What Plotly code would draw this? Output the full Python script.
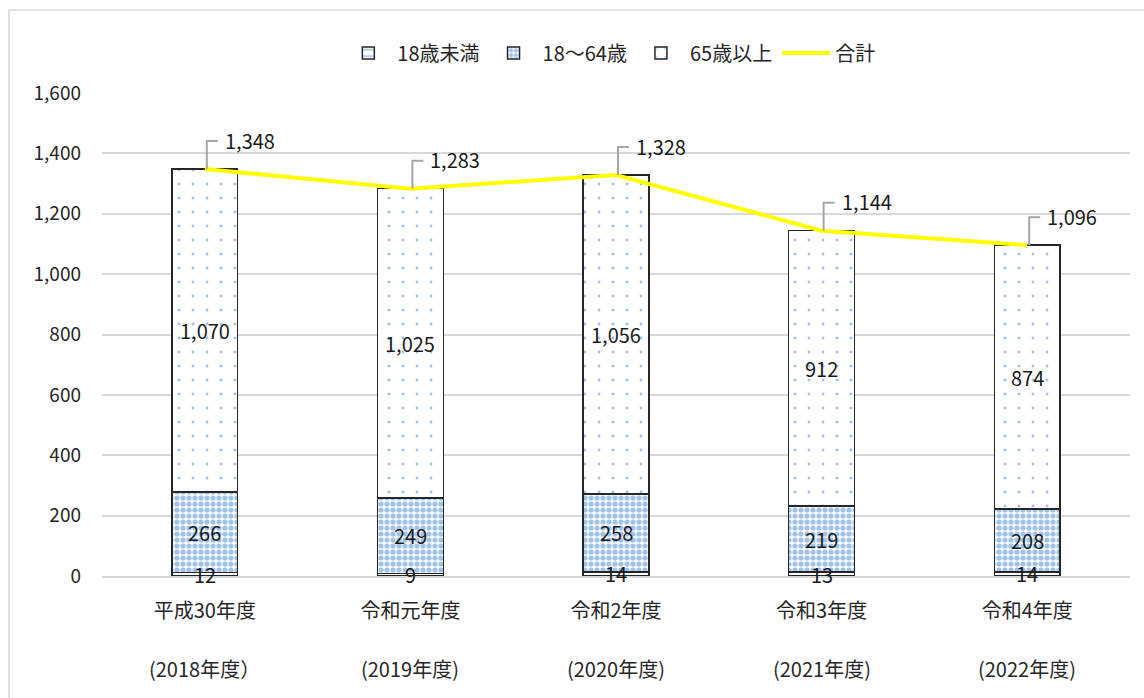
import plotly.graph_objects as go

categories = ["平成30年度", "令和元年度", "令和2年度", "令和3年度", "令和4年度"]
sub_labels = ["(2018年度）", "(2019年度)", "(2020年度)", "(2021年度)", "(2022年度)"]
under18 = [12, 9, 14, 13, 14]
age18_64 = [266, 249, 258, 219, 208]
age65plus = [1070, 1025, 1056, 912, 874]
total = [1348, 1283, 1328, 1144, 1096]
y_ticks = [0, 200, 400, 600, 800, 1000, 1200, 1400, 1600]

FONT = "Noto Sans CJK JP"
BLUE = "#3F86D4"
x_idx = list(range(len(categories)))

fig = go.Figure()
fig.add_trace(go.Bar(
    x=x_idx, y=under18, name="18歳未満",
    marker=dict(color="white", line=dict(color="#262626", width=1.5),
                pattern=dict(shape="-", fgcolor=BLUE, bgcolor="white", size=8, solidity=0.25)),
))
fig.add_trace(go.Bar(
    x=x_idx, y=age18_64, name="18～64歳",
    marker=dict(color="white", line=dict(color="#262626", width=1.5),
                pattern=dict(shape=".", fgcolor=BLUE, bgcolor="white", size=6, solidity=0.6)),
))
fig.add_trace(go.Bar(
    x=x_idx, y=age65plus, name="65歳以上",
    marker=dict(color="white", line=dict(color="#262626", width=1.5),
                pattern=dict(shape=".", fgcolor=BLUE, bgcolor="white", size=14, solidity=0.035)),
))
fig.add_trace(go.Scatter(
    x=x_idx, y=total, name="合計", mode="lines",
    line=dict(color="#FFFF00", width=4),
))

annotations = []
shapes = []
label_font = dict(family=FONT, size=20, color="#1a1a1a")
for i in x_idx:
    segs = [under18[i], age18_64[i], age65plus[i]]
    base = 0
    for v in segs:
        annotations.append(dict(x=i, y=base + v / 2, xref="x", yref="y",
                                text=f"{v:,}", showarrow=False, font=label_font))
        base += v
    # total label with elbow leader
    annotations.append(dict(x=i, y=total[i], xref="x", yref="y", text=f"{total[i]:,}",
                            showarrow=False, xanchor="left", yanchor="middle",
                            xshift=18, yshift=29, font=label_font))
    shapes.append(dict(type="path", xref="x", yref="y", xsizemode="pixel", ysizemode="pixel",
                       xanchor=i, yanchor=total[i], path="M2,0 L2,28 L13,28",
                       line=dict(color="#A6A6A6", width=2)))
    annotations.append(dict(x=i, y=0, xref="x", yref="paper", text=sub_labels[i],
                            showarrow=False, yanchor="middle", yshift=-92,
                            font=dict(family=FONT, size=20, color="#262626")))

# outer frame
shapes.append(dict(type="rect", xref="paper", yref="paper", x0=-0.0905, x1=1.03,
                   y0=-0.4, y1=1.172, line=dict(color="#D9D9D9", width=1.5),
                   fillcolor="rgba(0,0,0,0)", layer="below"))

fig.update_layout(
    width=1144, height=698,
    margin=dict(l=102, r=14, t=93, b=122),
    barmode="stack", bargap=0.68,
    plot_bgcolor="white", paper_bgcolor="white",
    font=dict(family=FONT, size=20, color="#262626"),
    legend=dict(orientation="h", x=0.494, xanchor="center", y=1.083, yanchor="middle",
                font=dict(family=FONT, size=20, color="#262626"), traceorder="normal",
                bgcolor="rgba(0,0,0,0)", itemwidth=48),
    annotations=annotations,
    shapes=shapes,
    showlegend=True,
)
fig.update_xaxes(
    tickmode="array", tickvals=x_idx, ticktext=categories,
    range=[-0.5, len(categories) - 0.5],
    showgrid=False, showline=True, linecolor="#D9D9D9", linewidth=1.5,
    ticks="", ticklabelstandoff=16,
    tickfont=dict(family=FONT, size=20, color="#262626"),
)
fig.update_yaxes(
    range=[0, 1600], tickvals=y_ticks, tickformat=",",
    showgrid=True, gridcolor="#D9D9D9", gridwidth=1.5,
    zeroline=False, showline=False, ticks="", ticklabelstandoff=20,
    tickfont=dict(family=FONT, size=19, color="#262626"),
)

fig.write_html("out.html")
